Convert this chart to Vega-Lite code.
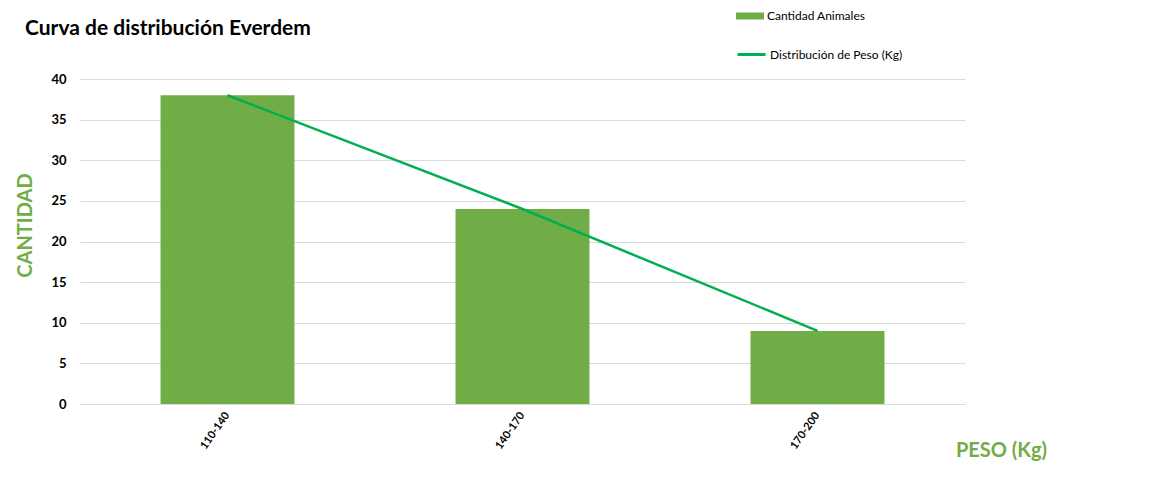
{
  "$schema": "https://vega.github.io/schema/vega-lite/v6.json",
  "autosize": "none",
  "width": 885,
  "height": 325,
  "padding": {"left": 80, "top": 79, "right": 192, "bottom": 94},
  "background": "white",
  "title": {
    "text": "Curva de distribución Everdem",
    "anchor": "start",
    "frame": "group",
    "dx": -55,
    "dy": 37,
    "offset": 0,
    "font": "Lato",
    "fontSize": 21,
    "fontWeight": "bold",
    "color": "black"
  },
  "data": {
    "values": [
      {"rango": "110-140", "cantidad": 38},
      {"rango": "140-170", "cantidad": 24},
      {"rango": "170-200", "cantidad": 9}
    ]
  },
  "encoding": {
    "x": {
      "field": "rango",
      "type": "nominal",
      "sort": null,
      "scale": {"paddingInner": 0.546, "paddingOuter": 0.273},
      "axis": {
        "title": "PESO (Kg)",
        "titleX": 921,
        "titleY": 46,
        "titleAlign": "center",
        "titleBaseline": "middle",
        "titleAngle": 0,
        "labelAngle": -55,
        "labelAlign": "right",
        "labelBaseline": "middle",
        "labelPadding": 9,
        "labelFontSize": 11,
        "labelFontWeight": "bold",
        "ticks": false,
        "domainColor": "#D9D9D9",
        "grid": false
      }
    },
    "y": {
      "field": "cantidad",
      "type": "quantitative",
      "scale": {"domain": [0, 40]},
      "axis": {
        "title": "CANTIDAD",
        "titleX": -55,
        "titleY": 146,
        "titleAlign": "center",
        "titleBaseline": "middle",
        "values": [0, 5, 10, 15, 20, 25, 30, 35, 40],
        "labelFontSize": 13,
        "labelFontWeight": "bold",
        "labelPadding": 14,
        "ticks": false,
        "domain": false,
        "gridColor": "#D9D9D9"
      }
    }
  },
  "layer": [
    {
      "mark": {"type": "bar"},
      "encoding": {
        "fill": {
          "datum": "Cantidad Animales",
          "scale": {"range": ["#70AD47"]},
          "legend": {
            "orient": "none",
            "legendX": 656,
            "legendY": -77,
            "symbolType": "M-1,-0.25H1V0.25H-1Z",
            "symbolSize": 784,
            "symbolStrokeWidth": 0
          }
        }
      }
    },
    {
      "mark": {"type": "line", "strokeWidth": 2.5},
      "encoding": {
        "stroke": {
          "datum": "Distribución de Peso (Kg)",
          "scale": {"range": ["#00B050"]},
          "legend": {
            "orient": "none",
            "legendX": 656,
            "legendY": -40,
            "symbolType": "stroke",
            "symbolSize": 784,
            "symbolStrokeWidth": 3
          }
        }
      }
    }
  ],
  "config": {
    "font": "Lato",
    "view": {"stroke": null},
    "axis": {
      "labelColor": "black",
      "labelFont": "Lato",
      "titleColor": "#70AD47",
      "titleFont": "Lato",
      "titleFontSize": 20,
      "titleFontWeight": "bold"
    },
    "legend": {
      "title": null,
      "labelFont": "Lato",
      "labelFontSize": 12,
      "labelColor": "black",
      "labelOffset": 3
    }
  }
}
